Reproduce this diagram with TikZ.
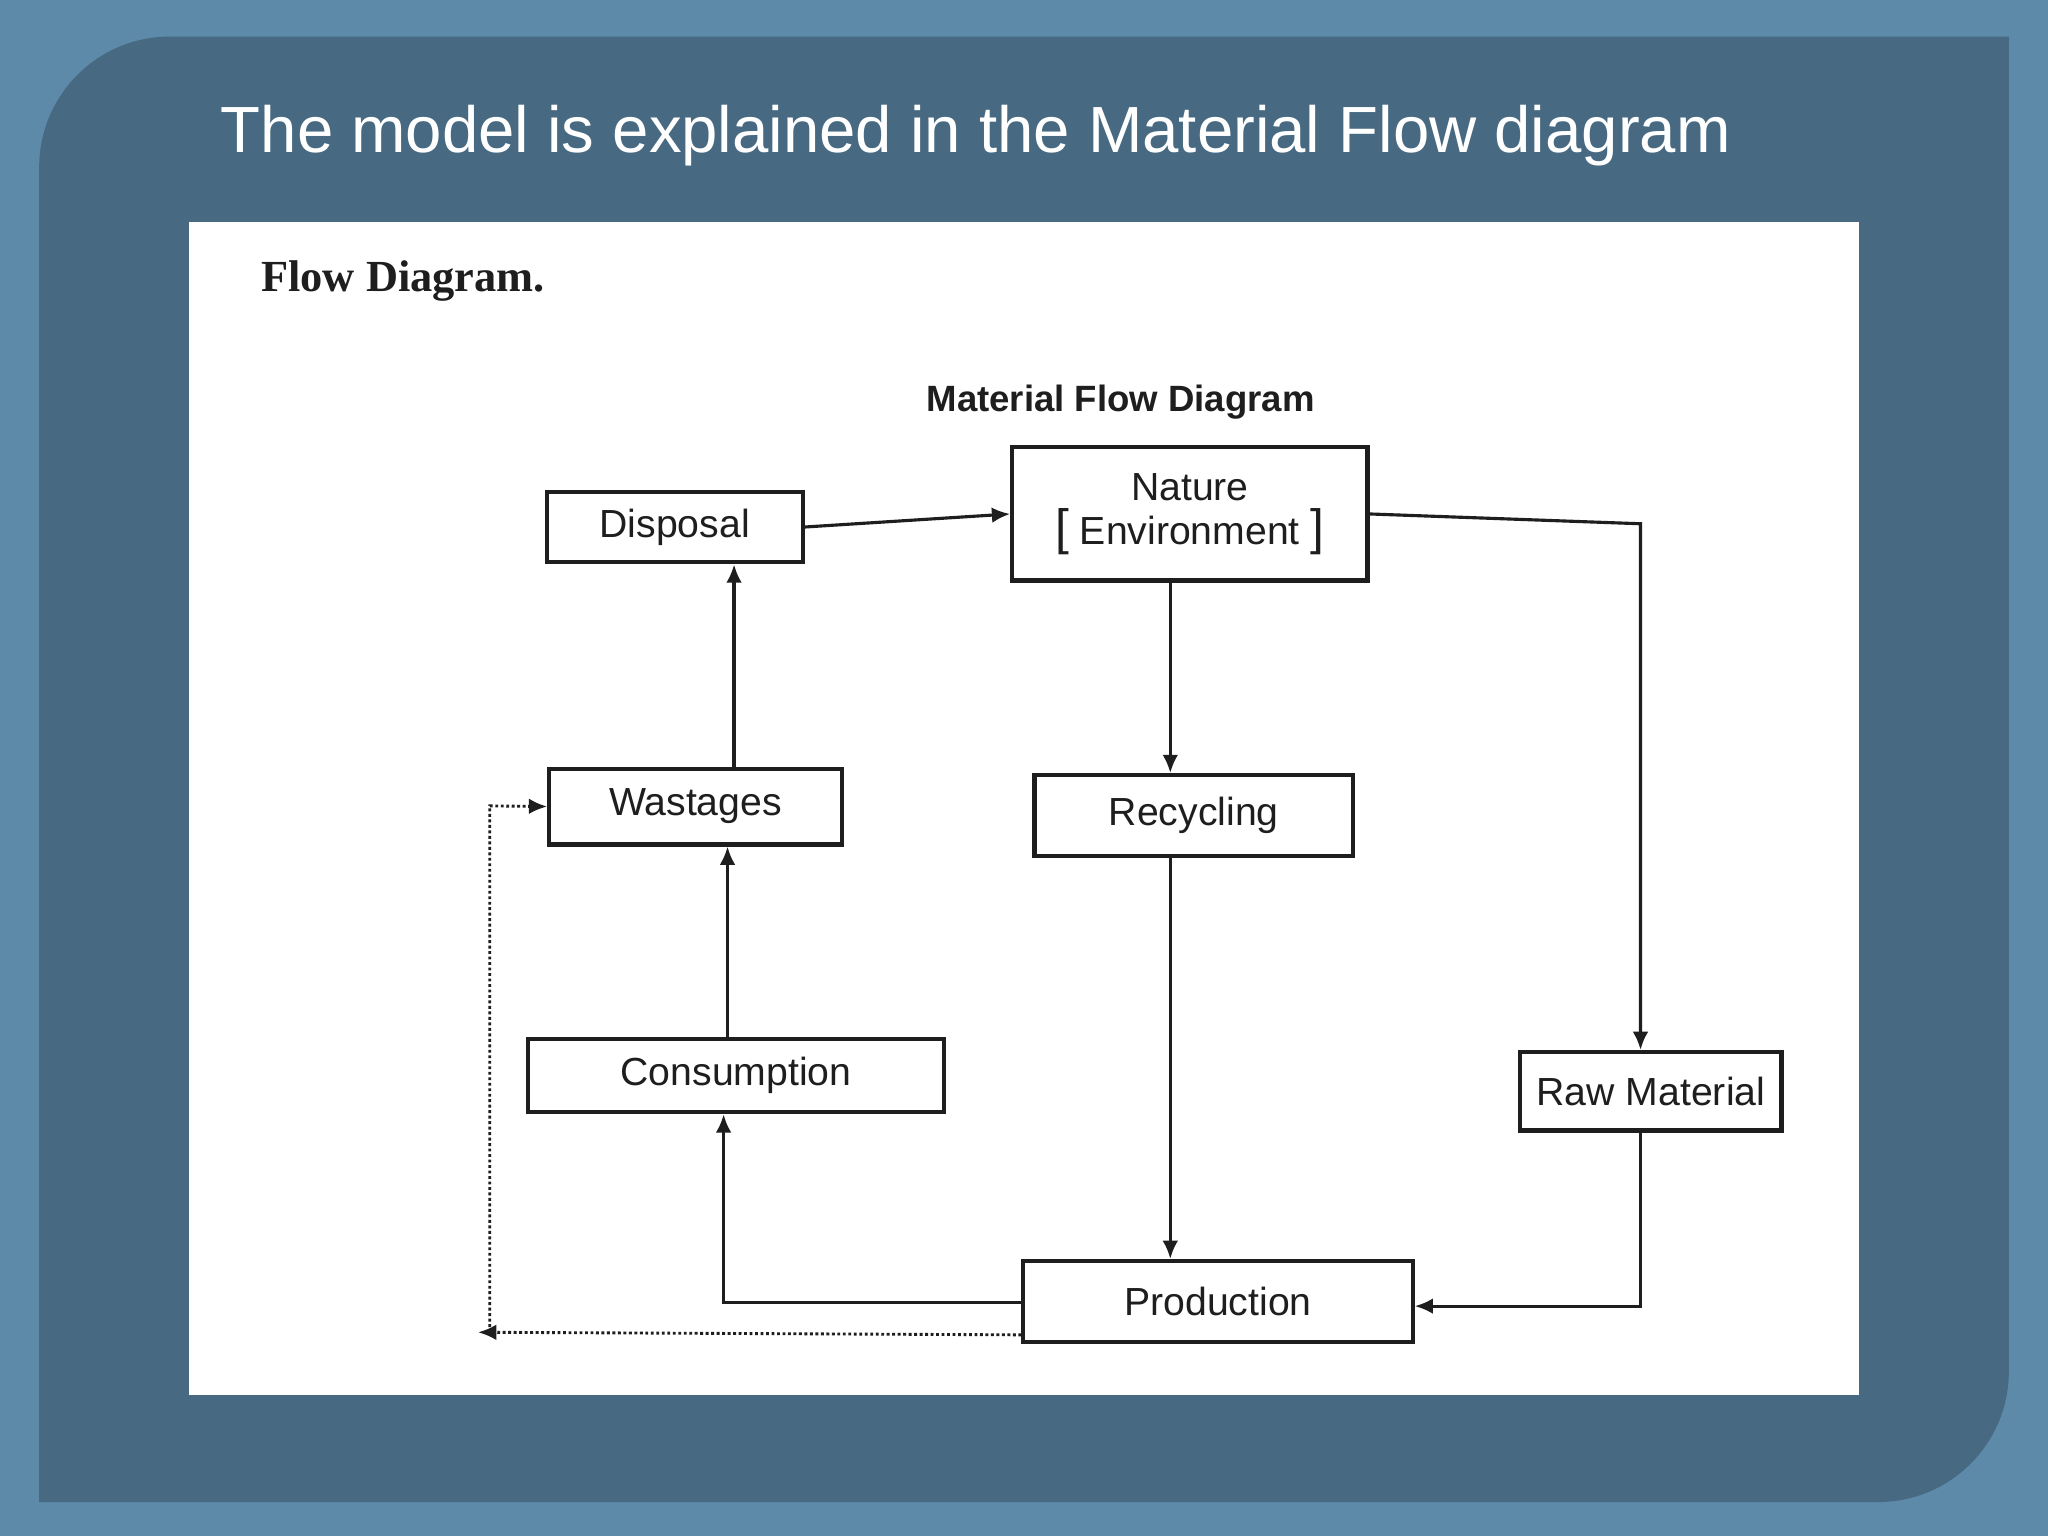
\documentclass[tikz,border=0pt]{standalone}
\usepackage{fontspec}
\setmainfont{Liberation Sans}
\newfontfamily\serifo{Liberation Serif}
\usetikzlibrary{arrows.meta}
\definecolor{outerbg}{HTML}{5E8AAA}
\definecolor{panel}{HTML}{476A82}
\definecolor{ink}{HTML}{1E1E1E}
\tikzset{
  box/.style={draw=ink,line width=1.6pt,inner sep=0pt,font=\fontsize{15}{17}\selectfont,text=ink},
  flow/.style={draw=ink,line width=1.2pt,-{Latex[length=7pt,width=6pt]}},
  dotflow/.style={draw=ink,line width=1.1pt,densely dotted,-{Latex[length=7pt,width=6pt]}},
}
\begin{document}
\begin{tikzpicture}[x=0.5pt,y=-0.5pt]
\fill[outerbg] (0,0) rectangle (1568,1176);
\useasboundingbox (0,0) rectangle (1568,1176);
\fill[panel] (30,128) arc[start angle=180,end angle=90,x radius=100,y radius=-100] -- (1538,28) -- (1538,1050)
  arc[start angle=0,end angle=-90,x radius=100,y radius=-100] -- (30,1150) -- cycle;
\node[anchor=west,text=white,font=\fontsize{25}{28}\selectfont] (title) at (162,104) {The model is explained in the Material Flow diagram};
\fill[white] (145,170) rectangle (1423,1068);
\node[anchor=west,font=\serifo\bfseries\fontsize{17}{20}\selectfont,text=ink] (fd) at (193,215) {Flow Diagram.};
\node[font=\bfseries\fontsize{14}{16}\selectfont,text=ink] (mfd) at (858,308) {Material Flow Diagram};
\node[box,minimum width=98pt,minimum height=27pt] (disp) at (516.5,403.5) {Disposal};
\node[box,minimum width=136pt,minimum height=51pt,align=center] (nat) at (911,393.5) {Nature\\{\fontsize{19}{19}\selectfont[} Environment {\fontsize{19}{19}\selectfont]}};
\node[box,minimum width=112pt,minimum height=29pt] (wast) at (532.5,617.5) {Wastages};
\node[box,minimum width=122pt,minimum height=31pt] (rec) at (914,624.5) {Recycling};
\node[box,minimum width=159pt,minimum height=28pt] (cons) at (563.5,823.5) {Consumption};
\node[box,minimum width=100pt,minimum height=30pt] (raw) at (1264,835.5) {Raw Material};
\node[box,minimum width=149pt,minimum height=31pt] (prod) at (932.5,996.5) {Production};
\draw[flow] (disp.east) -- (nat.west);
\draw[flow] (nat.east) -- (1256,401) -- (raw.north -| 1256,0);
\draw[flow] (nat.south -| 896,0) -- (rec.north -| 896,0);
\draw[flow] (rec.south -| 896,0) -- (prod.north -| 896,0);
\draw[flow] (raw.south -| 1256,0) -- (1256,1000) -- (prod.east |- 0,1000);
\draw[flow] (prod.west |- 0,997) -- (554,997) -- (cons.south -| 554,0);
\draw[flow] (cons.north -| 557,0) -- (wast.south -| 557,0);
\draw[flow] (wast.north -| 562,0) -- (disp.south -| 562,0);
\draw[dotflow] (prod.west |- 0,1022) -- (366,1020);
\coordinate (dc) at (375,1016);
\draw[dotflow] (dc) -- (375,617) -- (wast.west);
\end{tikzpicture}
\end{document}
